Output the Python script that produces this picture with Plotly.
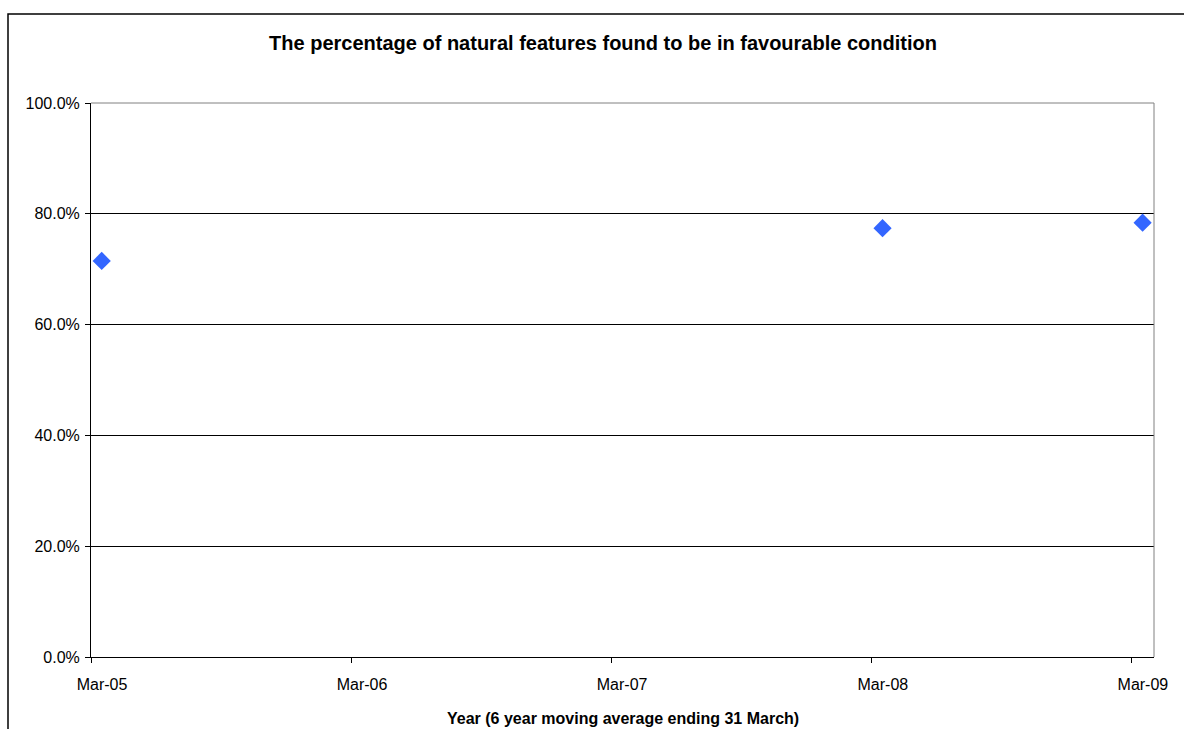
import plotly.graph_objects as go

# Six-year moving average ending 31 March, plotted at mid-month of each March
period_dates = ["2005-03-16", "2008-03-16", "2009-03-16"]
favourable_share = [0.715, 0.774, 0.784]

# Month-start ticks; labels sit in the middle of each month
tick_positions = ["2005-03-01", "2006-03-01", "2007-03-01", "2008-03-01", "2009-03-01"]
tick_labels = ["Mar-05", "Mar-06", "Mar-07", "Mar-08", "Mar-09"]

FONT = "Liberation Sans, Arial, sans-serif"

fig = go.Figure(
    go.Scatter(
        x=period_dates,
        y=favourable_share,
        mode="markers",
        marker=dict(symbol="diamond", size=14, color="#3366FF", line=dict(width=0)),
        hoverinfo="x+y",
    )
)

W, H = 1184, 729
ml, mr, mt, mb = 91, 30, 103, 72
pw, ph = W - ml - mr, H - mt - mb

fig.update_layout(
    width=W,
    height=H,
    margin=dict(l=ml, r=mr, t=mt, b=mb, pad=0),
    paper_bgcolor="white",
    plot_bgcolor="white",
    showlegend=False,
    font=dict(family=FONT, size=16, color="black"),
    title=dict(
        text="<b>The percentage of natural features found to be in favourable condition</b>",
        x=603 / W,
        xref="container",
        xanchor="center",
        y=1 - 43 / H,
        yref="container",
        yanchor="middle",
        font=dict(family=FONT, size=20, color="black"),
    ),
    xaxis=dict(
        type="date",
        range=["2005-03-01", "2009-04-01"],
        tickmode="array",
        tickvals=tick_positions,
        ticktext=tick_labels,
        ticks="outside",
        ticklen=5,
        tickwidth=1,
        tickcolor="black",
        ticklabelshift=11,
        ticklabelstandoff=8,
        showgrid=False,
        zeroline=False,
        showline=True,
        linecolor="black",
        linewidth=1,
        tickfont=dict(family=FONT, size=16, color="black"),
    ),
    yaxis=dict(
        range=[0, 1],
        tickmode="linear",
        tick0=0,
        dtick=0.2,
        tickformat=".1%",
        ticks="outside",
        ticklen=5,
        tickwidth=1,
        tickcolor="black",
        ticklabelstandoff=2,
        showgrid=True,
        gridcolor="black",
        gridwidth=1,
        zeroline=False,
        showline=True,
        linecolor="black",
        linewidth=1,
        tickfont=dict(family=FONT, size=16, color="black"),
    ),
)

# X-axis caption
fig.add_annotation(
    text="<b>Year (6 year moving average ending 31 March)</b>",
    xref="paper",
    yref="paper",
    x=0.5,
    y=-(718 - (mt + ph)) / ph,
    xanchor="center",
    yanchor="middle",
    showarrow=False,
    font=dict(family=FONT, size=16, color="black"),
)

# Grey plot-area border along the top and right
fig.add_shape(
    type="path",
    xref="paper",
    yref="paper",
    path="M 0,1 L 1,1 L 1,0",
    line=dict(color="#808080", width=1),
    layer="above",
)

# Chart-area frame, extending past the right and bottom of the page
fig.add_shape(
    type="rect",
    xref="paper",
    yref="paper",
    x0=(8 - ml) / pw,
    x1=(1198 - ml) / pw,
    y0=-(H + 10 - mt - ph) / ph,
    y1=1 + (mt - 14) / ph,
    line=dict(color="black", width=1.5),
    fillcolor="rgba(0,0,0,0)",
    layer="below",
)

fig.write_html("out.html")
